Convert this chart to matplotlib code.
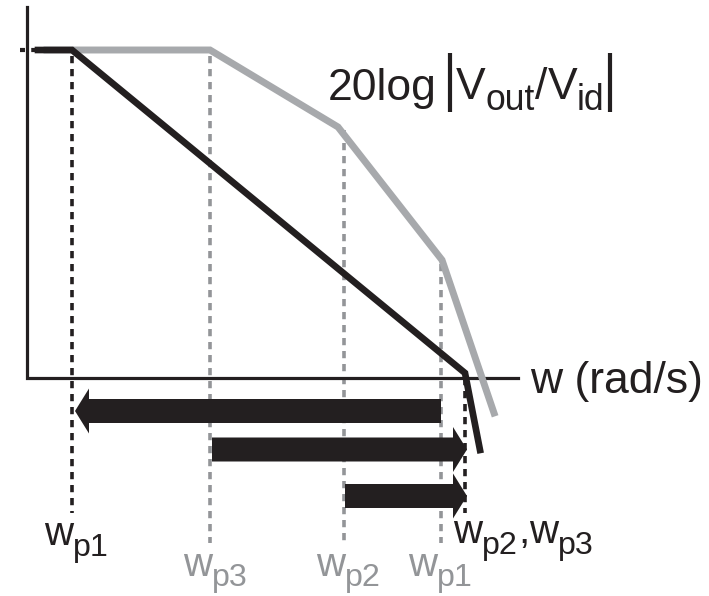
import matplotlib
matplotlib.use('Agg')
import matplotlib.pyplot as plt
from matplotlib.patches import FancyArrow

plt.rcParams['font.family'] = ['Liberation Sans', 'DejaVu Sans']

# corner points of the two asymptotic plots (x = frequency, y = gain, drawing units)
black_x = [38, 72, 465, 480]
black_y = [50, 50, 373, 450]
gray_x = [47, 210, 338, 442, 494]
gray_y = [50, 50, 127, 260, 413]

# pole markers: (x, top of dashed line, bottom)
black_poles = [(72, 56, 513), (465, 378, 513)]
gray_poles = [(210, 56, 543), (344, 130, 543), (441, 264, 543)]

# pole-movement arrows: start x, end x, y
arrows = [(441, 75, 411), (212, 467, 449.5), (345, 467, 496)]

BLACK = '#231f20'
GRAY = '#a7a9ac'
GRAY_TXT = '#939598'

fig = plt.figure(figsize=(7.09, 5.96), dpi=100)
ax = fig.add_axes([0, 0, 1, 1])
ax.set_xlim(0, 709)
ax.set_ylim(596, 0)
ax.axis('off')
renderer = fig.canvas.get_renderer()


def sub_text(x, y, parts, size, color, drop=11, shrink=0.8):
    # draw text made of (string, is_subscript) pieces, left to right
    for s, is_sub in parts:
        fs = size * shrink if is_sub else size
        t = ax.text(x, y + (drop if is_sub else 0), s, fontsize=fs, color=color,
                    ha='left', va='baseline')
        x += t.get_window_extent(renderer).width


# axes of the bode plot
ax.plot([27, 27, 518], [7, 378, 378], color=BLACK, lw=2.3, solid_joinstyle='miter', zorder=2)
ax.plot([20, 38], [50, 50], color=BLACK, lw=3, ls=(0, (1.2, 1.5)), zorder=2)

# dashed pole lines
for x, y0, y1 in gray_poles:
    ax.plot([x, x], [y0, y1], color=GRAY_TXT, lw=2.6, ls=(0, (2.0, 1.6)), zorder=1)
for x, y0, y1 in black_poles:
    ax.plot([x, x], [y0, y1], color=BLACK, lw=2.6, ls=(0, (2.0, 1.6)), zorder=1)

# curves
ax.plot(gray_x, gray_y, color=GRAY, lw=5, solid_joinstyle='miter', zorder=3)
ax.plot(black_x, black_y, color=BLACK, lw=4.8, solid_joinstyle='miter', zorder=4)

# arrows
for xs, xe, y in arrows:
    ax.add_patch(FancyArrow(xs, y, xe - xs, 0, width=24, head_width=45, head_length=14,
                            length_includes_head=True, color=BLACK, lw=0, zorder=5))

# labels
ax.text(328, 100, '20log', fontsize=32, color=BLACK, ha='left', va='baseline')
ax.plot([450, 450], [53, 112], color=BLACK, lw=3, solid_capstyle='butt')
ax.plot([610, 610], [53, 112], color=BLACK, lw=3, solid_capstyle='butt')
sub_text(456, 99, [('V', False), ('out', True), ('/', False), ('V', False), ('id', True)],
         32, BLACK, drop=11)
ax.text(530, 393, 'w (rad/s)', fontsize=32, color=BLACK, ha='left', va='baseline')

sub_text(44, 545, [('w', False), ('p1', True)], 29, BLACK)
sub_text(453, 543, [('w', False), ('p2', True), (',', False), ('w', False), ('p3', True)], 29, BLACK)
sub_text(183, 576, [('w', False), ('p3', True)], 29, GRAY_TXT, drop=10)
sub_text(316, 576, [('w', False), ('p2', True)], 29, GRAY_TXT, drop=10)
sub_text(408, 576, [('w', False), ('p1', True)], 29, GRAY_TXT, drop=10)

fig.savefig('out.png', dpi=100)
